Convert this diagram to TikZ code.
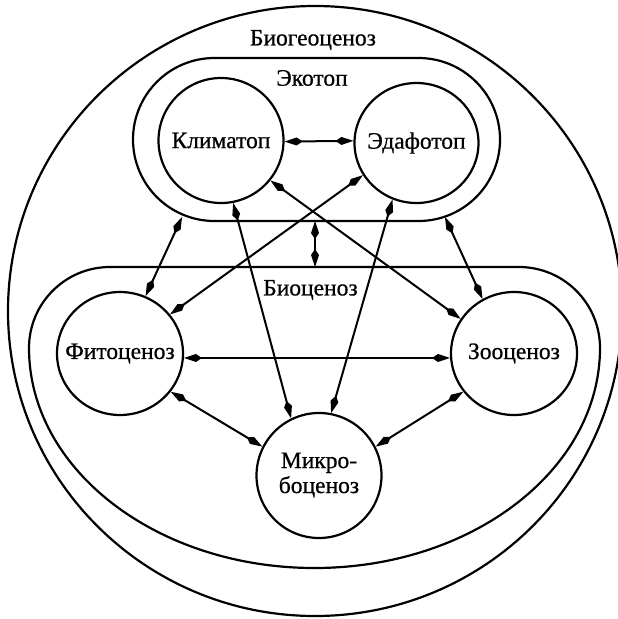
\documentclass[tikz,border=0pt]{standalone}
\usepackage{fontspec}
\setmainfont{Liberation Serif}
\newfontfamily\figfont{Liberation Serif}[FakeBold=0.7]
\usetikzlibrary{arrows.meta,shapes.geometric}
\tikzset{
  ring/.style={draw, ellipse, line width=2.2pt, inner sep=0pt, font=\figfont\fontsize{23.5}{25}\selectfont},
  lbl/.style={font=\figfont\fontsize{23.5}{25}\selectfont, inner sep=0pt},
  arr/.style={line width=2pt, {Kite[length=18pt,width=8pt,inset=6pt]}-{Kite[length=18pt,width=8pt,inset=6pt]}},
  outline/.style={line width=2.2pt}
}
\begin{document}
\begin{tikzpicture}[x=1pt,y=1pt]
\useasboundingbox (0,0) rectangle (618,-619);
% outer shapes
\draw[outline] (315,-311) ellipse [x radius=307, y radius=305];
\draw[outline] (214.5,-58) -- (418.5,-58) arc[start angle=90, end angle=-90, radius=81.5] -- (214.5,-221) arc[start angle=270, end angle=90, radius=81.5] -- cycle;
\draw[outline] (29,-348) arc[start angle=180, end angle=90, radius=81] -- (519,-267) arc[start angle=90, end angle=0, radius=81] arc[start angle=0, end angle=-180, x radius=285.5, y radius=220] -- cycle;
% labels
\node[lbl] (bgc) at (313,-40) {Биогеоценоз};
\node[lbl] (eco) at (312,-78) {Экотоп};
\node[lbl] (bio) at (310.5,-290) {Биоценоз};
% circles
\node[ring, minimum width=125pt, minimum height=125pt] (klim) at (221,-140.5) {\makebox[0pt]{Климатоп}};
\node[ring, minimum width=124pt, minimum height=120pt] (edaf) at (416.5,-143) {\makebox[0pt]{Эдафотоп}};
\node[ring, minimum width=126pt, minimum height=123pt] (phyto) at (120,-353.5) {\makebox[0pt]{Фитоценоз}};
\node[ring, minimum width=126pt, minimum height=123pt] (zoo) at (514,-353.5) {\makebox[0pt]{Зооценоз}};
\node[ring, minimum width=125pt, minimum height=125pt] (micro) at (319,-475.5) {\makebox[0pt]{\begin{tabular}{@{}c@{}}Микро-\\боценоз\end{tabular}}};
% connector ends on the Ecotop and Biocenosis outlines
\coordinate (ecoA) at (182,-217);
\coordinate (ecoB) at (315,-221);
\coordinate (ecoC) at (445,-217);
\coordinate (bioT) at (315,-267);
% connectors
\draw[arr] (klim.-1) -- (edaf.178);
\draw[arr] (ecoA) -- (phyto.66);
\draw[arr] (ecoB) -- (bioT);
\draw[arr] (ecoC) -- (zoo.120);
\draw[arr] (klim.-39) -- (zoo.147);
\draw[arr] (edaf.211) -- (phyto.38);
\draw[arr] (klim.-79) -- (micro.116);
\draw[arr] (edaf.247) -- (micro.79);
\draw[arr] (phyto.-4) -- (zoo.184);
\draw[arr] (phyto.-37) -- (micro.153);
\draw[arr] (zoo.217) -- (micro.27);
\end{tikzpicture}
\end{document}
